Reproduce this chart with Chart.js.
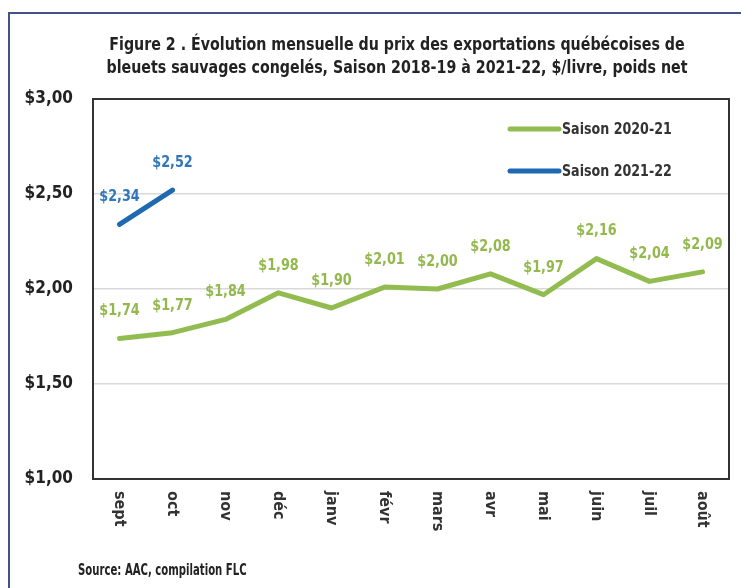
<!DOCTYPE html>
<html>
<head>
<meta charset="utf-8">
<script src="https://cdn.jsdelivr.net/npm/chart.js@4.4.1/dist/chart.umd.min.js"></script>
<style>
  html, body { margin: 0; padding: 0; background: #fff; }
  #wrap { width: 741px; height: 588px; position: relative; }
</style>
</head>
<body>
<div id="wrap"><canvas id="Chart" width="741" height="588"></canvas></div>
<script>
// data
const months = ['sept', 'oct', 'nov', 'déc', 'janv', 'févr', 'mars', 'avr', 'mai', 'juin', 'juil', 'août'];
const saison2021 = [1.74, 1.77, 1.84, 1.98, 1.90, 2.01, 2.00, 2.08, 1.97, 2.16, 2.04, 2.09];
const saison2122 = [2.34, 2.52, null, null, null, null, null, null, null, null, null, null];
const yTicks = [1.00, 1.50, 2.00, 2.50, 3.00];
const titleLines = [
    'Figure 2 . Évolution mensuelle du prix des exportations québécoises de',
    'bleuets sauvages congelés, Saison 2018-19 à 2021-22, $/livre, poids net'
];
const sourceText = 'Source: AAC, compilation FLC';

const FONT = '"Liberation Sans Narrow", "Arial Narrow", "DejaVu Sans Condensed", "Liberation Sans", sans-serif';
const GREEN = '#92bc4f';
const GREEN_TXT = '#93b84e';
const BLUE = '#1f69b0';
const BLUE_TXT = '#2f77b8';

function money(v) {
    return '$' + v.toFixed(2).replace('.', ',');
}

// text squeezed horizontally, to look like the narrow face of the original
function narrowText(ctx, text, x, y, squeeze, align) {
    ctx.save();
    ctx.translate(x, y);
    ctx.scale(squeeze, 1);
    ctx.textAlign = align;
    ctx.fillText(text, 0, 0);
    ctx.restore();
}

// frame, title, box, legend, value labels, x labels, source
const decorations = {
    id: 'decorations',
    afterDraw(chart) {
        const ctx = chart.ctx;
        const area = chart.chartArea;
        ctx.save();

        // outer frame
        ctx.strokeStyle = '#41538a';
        ctx.lineWidth = 2;
        ctx.strokeRect(9, 13, 800, 700);

        // title
        ctx.fillStyle = '#222';
        ctx.font = 'bold 17px ' + FONT;
        ctx.textBaseline = 'middle';
        narrowText(ctx, titleLines[0], 397, 46, 0.93, 'center');
        narrowText(ctx, titleLines[1], 397, 69, 0.93, 'center');

        // plot box
        ctx.strokeStyle = '#333';
        ctx.lineWidth = 2;
        ctx.strokeRect(area.left, area.top, area.right - area.left, area.bottom - area.top);

        // value labels
        ctx.font = 'bold 15px ' + FONT;
        chart.data.datasets.forEach((ds, i) => {
            const meta = chart.getDatasetMeta(i);
            ctx.fillStyle = ds.labelColor;
            meta.data.forEach((pt, j) => {
                const v = ds.data[j];
                if (v === null) return;
                narrowText(ctx, money(v), pt.x, pt.y - 27, 0.95, 'center');
            });
        });

        // legend
        ctx.font = 'bold 16px ' + FONT;
        chart.data.datasets.forEach((ds, i) => {
            const y = 129 + i * 42;
            ctx.strokeStyle = ds.borderColor;
            ctx.lineWidth = 5;
            ctx.lineCap = 'round';
            ctx.beginPath();
            ctx.moveTo(510, y);
            ctx.lineTo(559, y);
            ctx.stroke();
            ctx.fillStyle = '#333';
            narrowText(ctx, ds.label, 562, y + 1, 0.88, 'left');
        });

        // x labels, rotated clockwise
        const xs = chart.scales.x;
        ctx.fillStyle = '#333';
        ctx.font = 'bold 16px ' + FONT;
        months.forEach((m, i) => {
            ctx.save();
            ctx.translate(xs.getPixelForValue(i), area.bottom + 12);
            ctx.rotate(Math.PI / 2);
            ctx.textAlign = 'left';
            ctx.textBaseline = 'middle';
            ctx.fillText(m, 0, 0);
            ctx.restore();
        });

        // source
        ctx.fillStyle = '#222';
        ctx.font = 'bold 15px ' + FONT;
        narrowText(ctx, sourceText, 78, 571, 0.75, 'left');

        ctx.restore();
    }
};

const chart = new Chart(document.getElementById('Chart'), {
    type: 'line',
    data: {
        labels: months,
        datasets: [{
            label: 'Saison 2020-21',
            data: saison2021,
            borderColor: GREEN,
            labelColor: GREEN_TXT,
            borderWidth: 5,
            pointRadius: 0,
            tension: 0,
            borderCapStyle: 'round',
            borderJoinStyle: 'round'
        }, {
            label: 'Saison 2021-22',
            data: saison2122,
            borderColor: BLUE,
            labelColor: BLUE_TXT,
            borderWidth: 5,
            pointRadius: 0,
            tension: 0,
            borderCapStyle: 'round',
            borderJoinStyle: 'round'
        }]
    },
    options: {
        responsive: false,
        animation: false,
        layout: { padding: { left: 0, right: 12, top: 99, bottom: 109 } },
        plugins: {
            legend: { display: false },
            title: { display: false },
            tooltip: { enabled: false }
        },
        scales: {
            x: {
                offset: true,
                grid: { display: false },
                border: { display: false },
                ticks: { display: false },
                afterFit(scale) { scale.height = 0; }
            },
            y: {
                min: 1,
                max: 3,
                afterBuildTicks(scale) {
                    scale.ticks = yTicks.map(v => ({ value: v }));
                },
                afterFit(scale) { scale.width = 93; },
                border: { display: false },
                grid: {
                    drawTicks: false,
                    lineWidth: 1.5,
                    color: ctx => (ctx.tick && (ctx.tick.value === 1 || ctx.tick.value === 3)) ? 'rgba(0,0,0,0)' : '#d9d9d9'
                },
                ticks: {
                    padding: 20,
                    color: '#222',
                    font: { family: FONT, size: 17, weight: 'bold' },
                    callback: v => money(v)
                }
            }
        }
    },
    plugins: [decorations]
});
</script>
</body>
</html>
